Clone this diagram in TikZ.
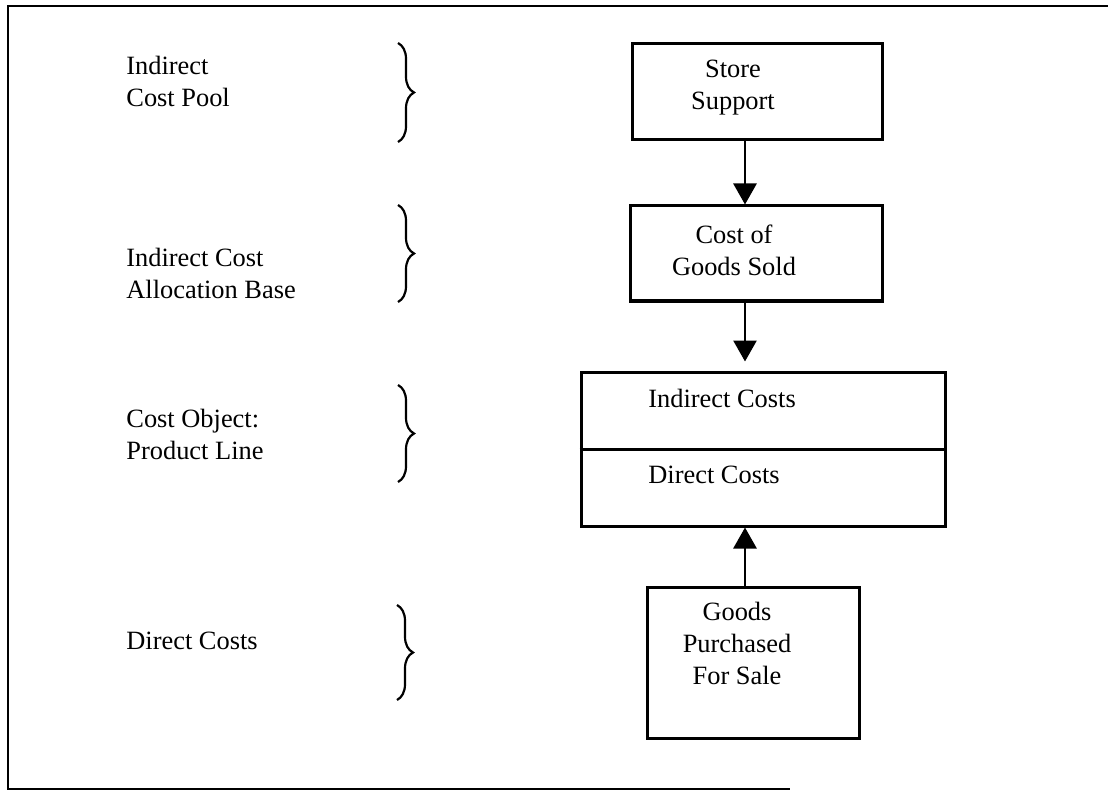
\documentclass[tikz,border=0pt]{standalone}
\usepackage{fontspec}
\setmainfont{Liberation Serif}
\usetikzlibrary{arrows.meta,decorations.pathreplacing}

\begin{document}
\begin{tikzpicture}[
x=0.5pt, y=-0.5pt,
every node/.style={font=\fontsize{13.2}{16}\selectfont, inner sep=0pt},
side/.style={align=left, anchor=west},
txt/.style={align=center},
box/.style={draw, line width=1.5pt},
arr/.style={line width=1.4pt, -{Triangle[length=10.5pt,width=11.5pt]}},
brc/.style={line width=1.1pt, decorate, decoration={brace, amplitude=8pt}},
]
\useasboundingbox (0,0) rectangle (1108,791);
% рамка
\draw[line width=1.4pt] (1108,6) -- (8,6) -- (8,789) -- (790,789);

% подписи слева
\node[side] (pool) at (126,81) {Indirect\\Cost Pool};
\node[side] (base) at (126,273) {Indirect Cost\\Allocation Base};
\node[side] (object) at (126,434) {Cost Object:\\Product Line};
\node[side] (direct) at (126,641) {Direct Costs};

% скобки
\draw[brc] (398,43) -- (398,142);
\draw[brc] (398,205) -- (398,302);
\draw[brc] (398,385) -- (398,482);
\draw[brc] (397,605) -- (397,700);

% блоки справа
\node[box, minimum width=125pt, minimum height=48pt] (store) at (757,92) {};
\node[txt] (storetxt) at (733,88) {Store\\Support};
\node[box, minimum width=126pt, minimum height=47.5pt] (cogs) at (756,253.5) {};
\node[txt] (cogstxt) at (734,250) {Cost of\\Goods Sold};
\node[box, minimum width=182pt, minimum height=77pt] (line) at (763,449) {};
\draw[line width=1.5pt] (line.west) -- (line.east);
\node[side] (indtxt) at (648,398) {Indirect Costs};
\node[side] (dirtxt) at (648,475) {Direct Costs};
\node[box, minimum width=106pt, minimum height=75.5pt] (goods) at (753,662.5) {};
\node[txt] (goodstxt) at (737,643) {Goods\\Purchased\\For Sale};

% стрелки
\coordinate (axis) at (745,0);
\draw[arr] (store.south -| axis) -- (cogs.north -| axis);
\draw[arr, shorten >=4.5pt] (cogs.south -| axis) -- (line.north -| axis);
\draw[arr] (goods.north -| axis) -- (line.south -| axis);
\end{tikzpicture}
\end{document}
